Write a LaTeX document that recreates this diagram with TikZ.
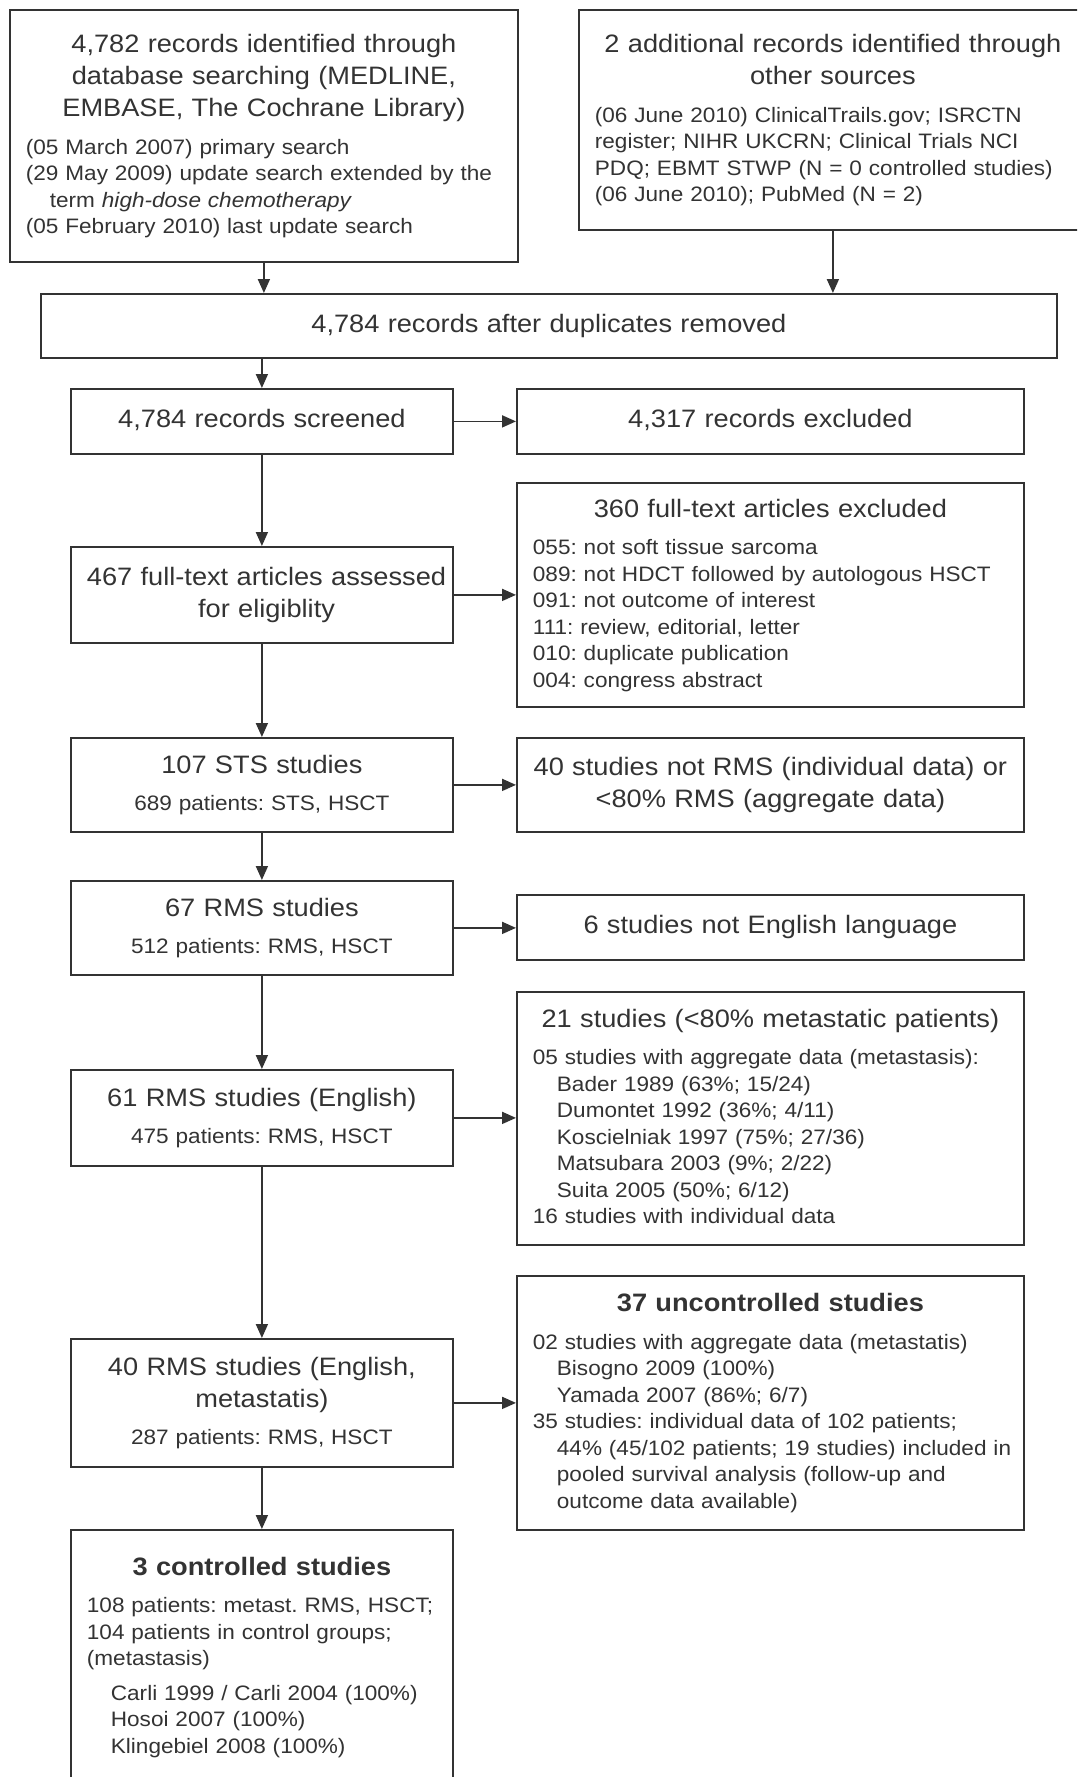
\documentclass[tikz,border=0pt]{standalone}
\usepackage{fontspec}
\setmainfont{Liberation Sans}[FakeStretch=1.08]
\usetikzlibrary{arrows.meta}

\definecolor{ink}{gray}{0.2}
\newcommand{\hfont}{\fontsize{25.2}{32}\selectfont\spaceskip=0.33em plus 0.1em\xspaceskip=\spaceskip\relax}
\newcommand{\sfont}{\fontsize{20.9}{26.5}\selectfont\spaceskip=0.33em plus 0.1em\xspaceskip=\spaceskip\relax}
\newcommand{\hd}[1]{{\centering\hfont\begin{tabular}[t]{@{}c@{}}#1\end{tabular}\par}}
\newcommand{\lst}[1]{\vspace{8.5pt}{\noindent\sfont\begin{tabular}[t]{@{}l@{}}#1\end{tabular}\par}}
\newcommand{\sub}[1]{\vspace{8.5pt}{\centering\sfont\begin{tabular}[t]{@{}c@{}}#1\end{tabular}\par}}
\newcommand{\ind}{\hspace*{24pt}}

\begin{document}
\begin{tikzpicture}[
  x=1pt, y=-1pt,
  box/.style={
    draw=ink,
    line width=1.8pt,
    fill=white,
    anchor=north west,
    inner xsep=16pt,
    inner ysep=0pt,
    text=ink
  },
  lbox/.style={box, minimum width=382pt, text width=350pt},
  rbox/.style={box, minimum width=507pt, text width=475pt},
  arr/.style={draw=ink, line width=1.8pt, -{Triangle[length=14pt,width=12pt]}}
]
    \useasboundingbox[fill=white] (0,0) rectangle (1077,1777);
    \clip (0,0) rectangle (1077,1777);

    % sources
    \node[box, minimum width=508pt, text width=476pt, minimum height=252pt] (srch) at (9,9) {%
      \hd{4,782 records identified through\\database searching (MEDLINE,\\EMBASE, The Cochrane Library)}%
      \lst{(05 March 2007) primary search\\
        (29 May 2009) update search extended by the\\
        \ind term \textit{high-dose chemotherapy}\\
        (05 February 2010) last update search}};
    \node[box, minimum width=508pt, text width=476pt, minimum height=220pt] (othr) at (578,9) {%
      \hd{2 additional records identified through\\other sources}%
      \lst{(06 June 2010) ClinicalTrails.gov; ISRCTN\\
        register; NIHR UKCRN; Clinical Trials NCI\\
        PDQ; EBMT STWP (N = 0 controlled studies)\\
        (06 June 2010); PubMed (N = 2)}};
    \node[box, minimum width=1016pt, text width=984pt, minimum height=64pt] (dupl) at (40,293)
      {\hd{4,784 records after duplicates removed}};

    % main column
    \node[lbox, minimum height=65pt] (scrn) at (70,388) {\hd{4,784 records screened}};
    \node[lbox, minimum height=96pt] (elig) at (70,546)
      {\hd{467 full-text articles assessed\\for eligiblity}};
    \node[lbox, minimum height=94pt] (sts) at (70,737)
      {\hd{107 STS studies}\sub{689 patients: STS, HSCT}};
    \node[lbox, minimum height=94pt] (rms) at (70,880)
      {\hd{67 RMS studies}\sub{512 patients: RMS, HSCT}};
    \node[lbox, minimum height=96pt] (engl) at (70,1069)
      {\hd{61 RMS studies (English)}\sub{475 patients: RMS, HSCT}};
    \node[lbox, minimum height=128pt] (meta) at (70,1338)
      {\hd{40 RMS studies (English,\\metastatis)}\sub{287 patients: RMS, HSCT}};
    \node[lbox, minimum height=254pt] (ctrl) at (70,1529) {%
      \hd{\bfseries 3 controlled studies}%
      \lst{108 patients: metast. RMS, HSCT;\\
        104 patients in control groups;\\
        (metastasis)\\[8pt]
        \ind Carli 1999 / Carli 2004 (100\%)\\
        \ind Hosoi 2007 (100\%)\\
        \ind Klingebiel 2008 (100\%)}};

    % exclusions
    \node[rbox, minimum height=65pt] (excl) at (516,388) {\hd{4,317 records excluded}};
    \node[rbox, minimum height=224pt] (ftex) at (516,482) {%
      \hd{360 full-text articles excluded}%
      \lst{055: not soft tissue sarcoma\\
        089: not HDCT followed by autologous HSCT\\
        091: not outcome of interest\\
        111: review, editorial, letter\\
        010: duplicate publication\\
        004: congress abstract}};
    \node[rbox, minimum height=94pt] (nrms) at (516,737)
      {\hd{40 studies not RMS (individual data) or\\<80\% RMS (aggregate data)}};
    \node[rbox, minimum height=65pt] (neng) at (516,894) {\hd{6 studies not English language}};
    \node[rbox, minimum height=253pt] (lowm) at (516,991) {%
      \hd{21 studies (<80\% metastatic patients)}%
      \lst{05 studies with aggregate data (metastasis):\\
        \ind Bader 1989 (63\%; 15/24)\\
        \ind Dumontet 1992 (36\%; 4/11)\\
        \ind Koscielniak 1997 (75\%; 27/36)\\
        \ind Matsubara 2003 (9\%; 2/22)\\
        \ind Suita 2005 (50\%; 6/12)\\
        16 studies with individual data}};
    \node[rbox, minimum height=254pt] (unct) at (516,1275) {%
      \hd{\bfseries 37 uncontrolled studies}%
      \lst{02 studies with aggregate data (metastatis)\\
        \ind Bisogno 2009 (100\%)\\
        \ind Yamada 2007 (86\%; 6/7)\\
        35 studies: individual data of 102 patients;\\
        \ind 44\% (45/102 patients; 19 studies) included in\\
        \ind pooled survival analysis (follow-up and\\
        \ind outcome data available)}};

    % connectors
    \draw[arr] (srch) -- (srch |- dupl.north);
    \draw[arr] (othr) -- (othr |- dupl.north);
    \draw[arr] (dupl.south -| scrn) -- (scrn);
    \draw[arr] (scrn) -- (elig);
    \draw[arr] (elig) -- (sts);
    \draw[arr] (sts) -- (rms);
    \draw[arr] (rms) -- (engl);
    \draw[arr] (engl) -- (meta);
    \draw[arr] (meta) -- (ctrl);
    \draw[arr] (scrn) -- (scrn -| excl.west);
    \draw[arr] (elig) -- (elig -| ftex.west);
    \draw[arr] (sts) -- (sts -| nrms.west);
    \draw[arr] (rms) -- (rms -| neng.west);
    \draw[arr] (engl) -- (engl -| lowm.west);
    \draw[arr] (meta) -- (meta -| unct.west);
\end{tikzpicture}
\end{document}
